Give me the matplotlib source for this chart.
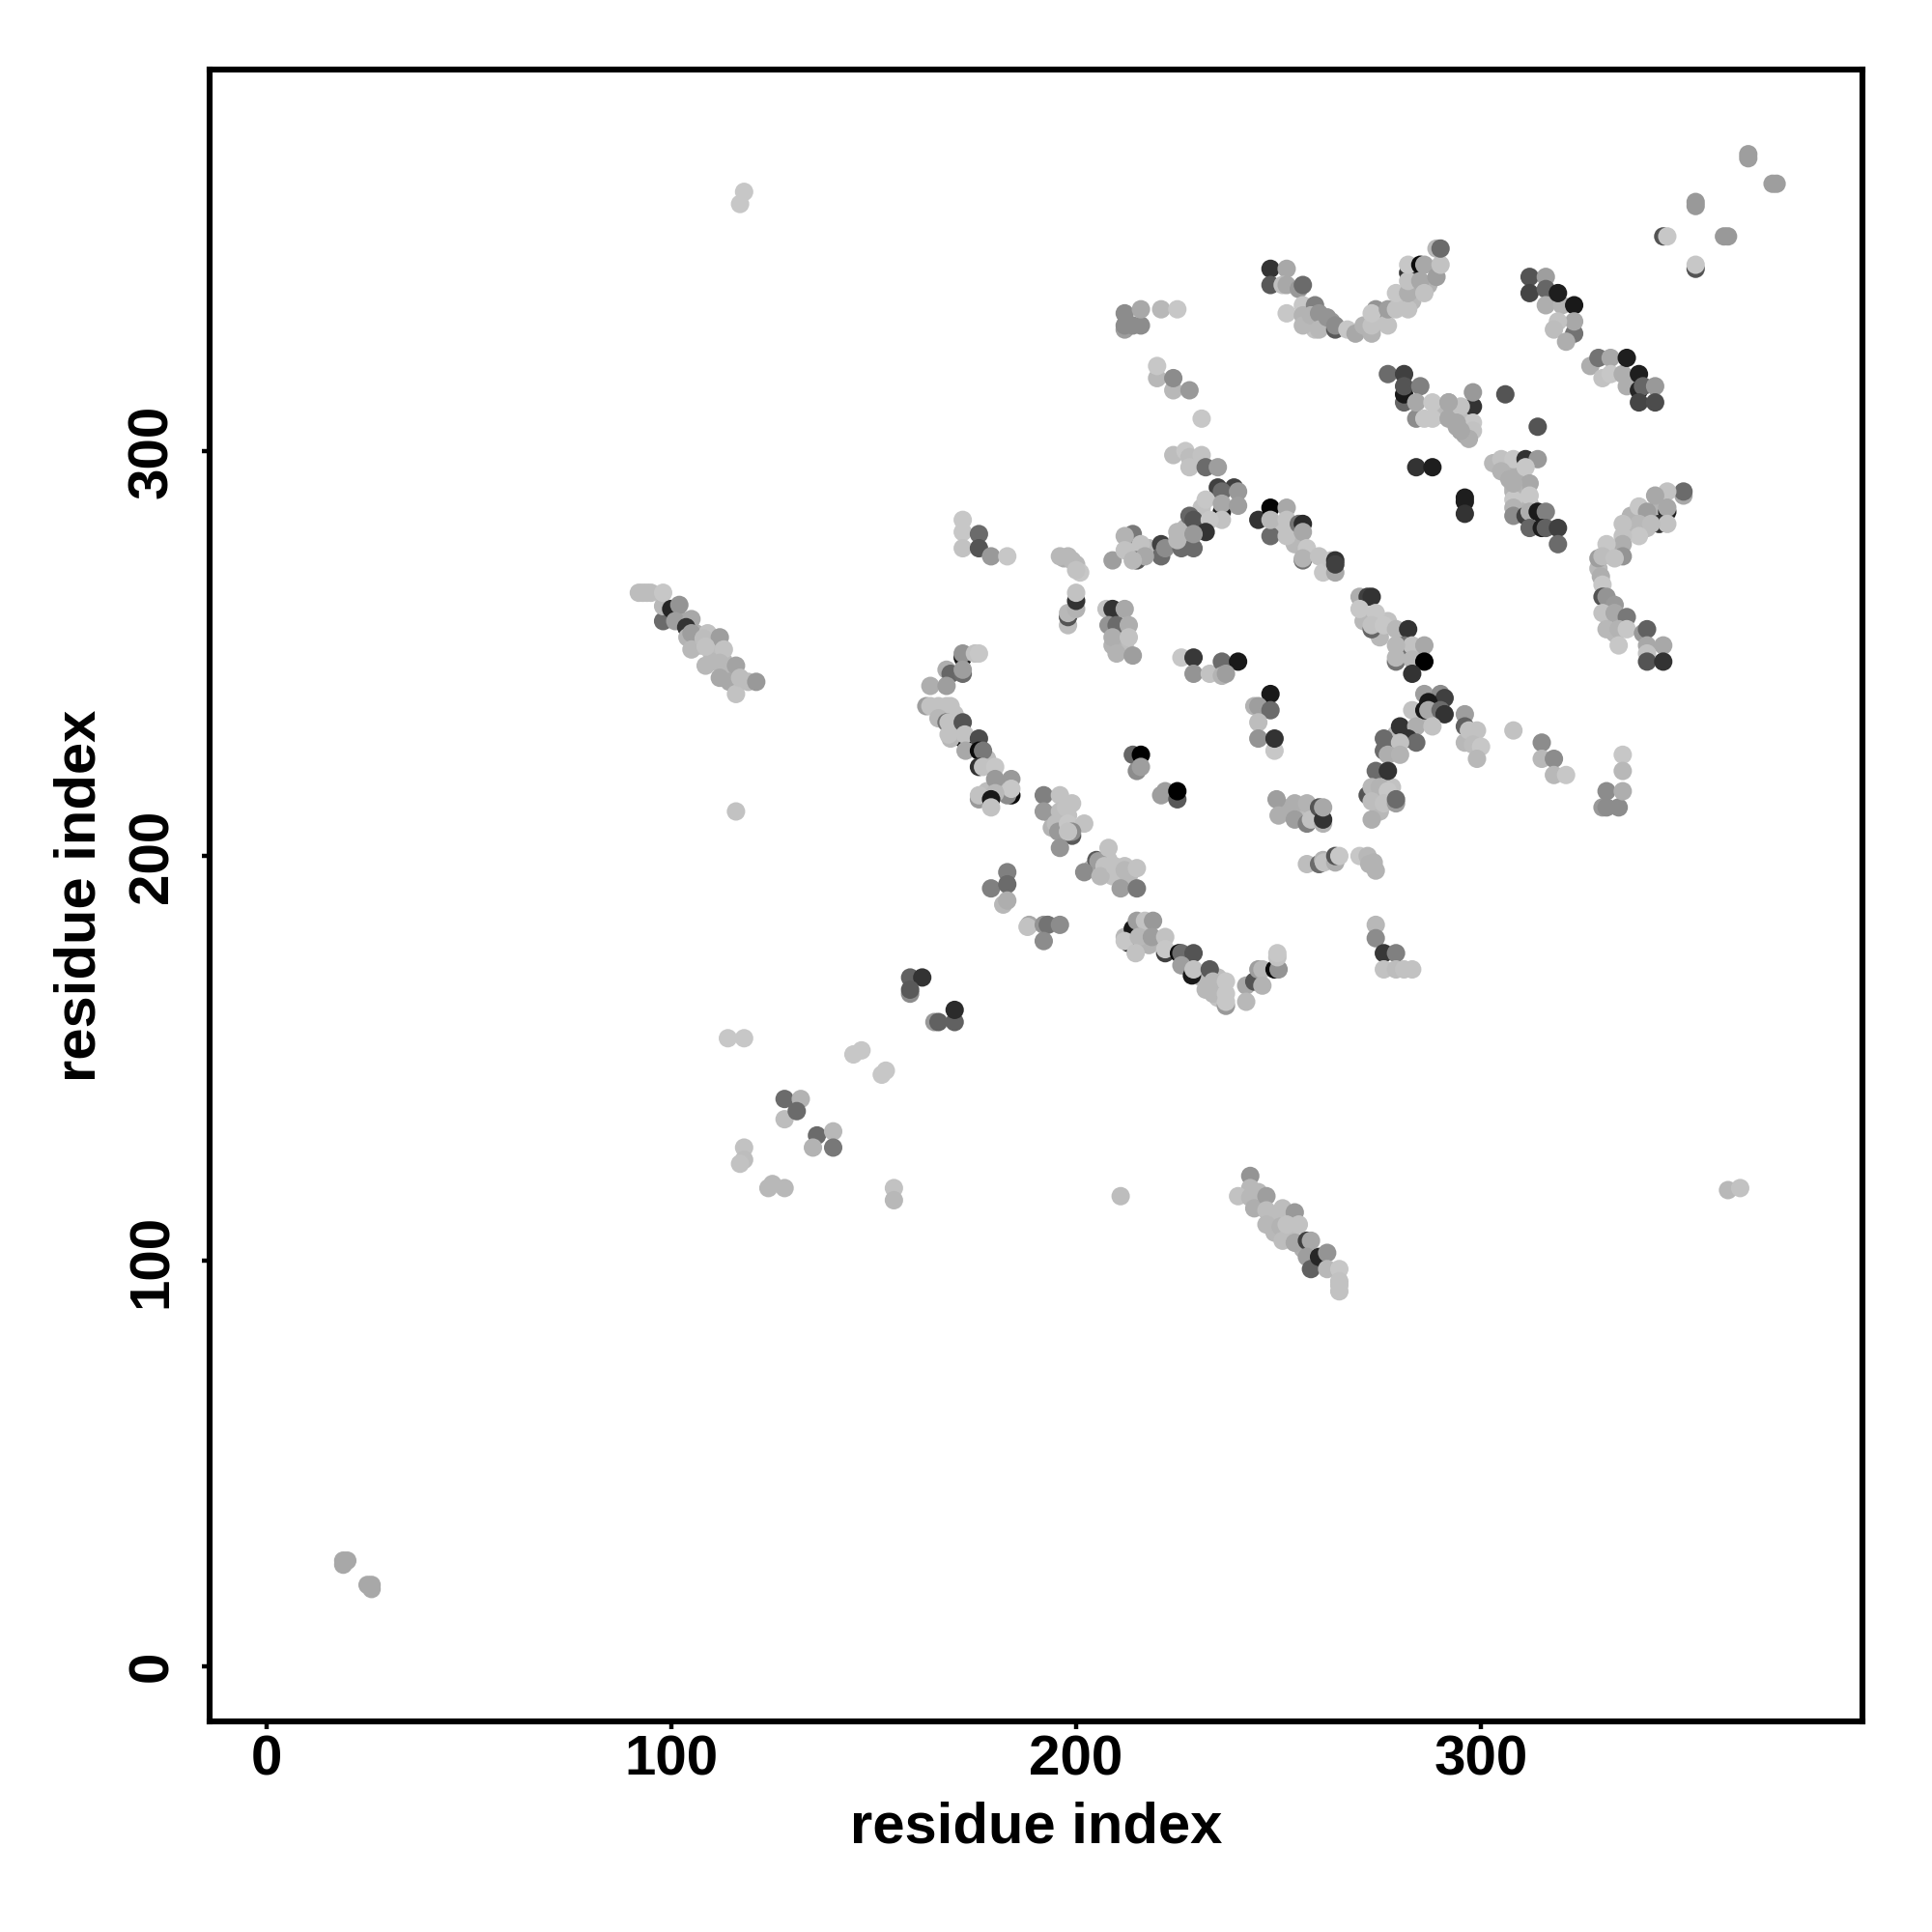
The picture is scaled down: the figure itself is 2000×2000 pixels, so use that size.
"""
Contact map of a protein: residue index against residue index, points shaded by score.
"""

import matplotlib

matplotlib.use("Agg")
import matplotlib.pyplot as plt
import numpy as np

#####################################
# Chart data (residue i, residue j, grey level)
#####################################

# points packed inside the dense patches, these sit under everything else
packed_x = [250, 251, 253, 254, 257, 258, 261, 259, 263, 275, 280, 283, 284, 287, 283,
            290, 291, 293, 294, 296, 297, 296, 306, 307, 309, 310, 308, 310, 309, 312,
            106, 107, 110, 110, 113, 115, 104, 103, 245, 249, 249, 252, 245, 253, 256, 259,
            194, 198, 197, 194, 199, 208, 209, 213, 204, 276, 278, 274, 275, 278, 279, 285,
            251, 252, 255, 256, 258, 271, 275, 280, 282, 285, 277, 332, 335, 333, 329, 332,
            337, 338, 341, 337, 344, 211, 212, 209, 170, 167, 171, 174, 178, 180, 178, 182,
            216, 218, 212, 231, 235, 235, 232, 235, 218, 214, 213, 231, 227, 226, 310, 310]
packed_y = [281, 280, 279, 277, 335, 332, 332, 330, 332, 332, 337, 337, 340, 341, 342,
            309, 310, 309, 306, 306, 306, 309, 296, 295, 294, 293, 290, 290, 289, 287,
            255, 252, 250, 248, 248, 245, 256, 258, 114, 111, 107, 106, 117, 107, 103, 100,
            210, 210, 207, 207, 213, 199, 195, 195, 197, 218, 217, 214, 211, 227, 230, 235,
            212, 211, 211, 210, 211, 258, 254, 250, 250, 250, 258, 258, 258, 255, 271, 275,
            281, 284, 281, 284, 286, 255, 252, 252, 235, 235, 231, 228, 224, 217, 216, 217,
            182, 178, 180, 170, 167, 170, 167, 165, 276, 276, 277, 286, 281, 279, 287, 285]
packed_g = [.72, .76, .72, .72, .7, .74, .62, .76, .6, .76, .76, .72, .7, .7, .72,
            .72, .72, .66, .66, .68, .74, .74, .7, .7, .68, .68, .7, .7, .74, .72,
            .68, .72, .74, .72, .72, .72, .66, .66, .72, .74, .72, .72, .72, .74, .68, .66,
            .72, .76, .76, .7, .76, .76, .76, .72, .7, .72, .76, .72, .72, .7, .72, .7,
            .68, .68, .72, .72, .74, .72, .72, .72, .72, .74, .76, .7, .68, .72, .72, .72,
            .72, .72, .74, .7, .7, .72, .74, .7, .76, .72, .72, .7, .74, .72, .74, .74,
            .72, .7, .72, .72, .72, .74, .72, .76, .72, .74, .76, .76, .72, .7, .74, .7]

a_x = [212, 212, 212, 214, 216, 216, 221, 225]
a_y = [330, 331, 334, 331, 331, 335, 335, 335]
a_g = [.62, .55, .55, .55, .55, .66, .72, .78]

b_x = [220, 220, 224, 224, 228, 231]
b_y = [318, 321, 315, 318, 315, 308]
b_g = [.72, .78, .72, .55, .6, .78]

c_x = [248, 252, 248, 251, 252, 255, 256, 252, 256, 256, 256, 259, 258, 260, 260, 262, 264, 264]
c_y = [345, 345, 341, 341, 341, 340, 341, 334, 336, 333.5, 331, 336, 333.5, 334, 330, 333, 330, 331]
c_g = [.2, .66, .35, .75, .66, .6, .42, .78, .78, .7, .72, .5, .7, .58, .72, .58, .35, .55]

d_x = [267, 269, 273, 271, 273, 274, 273, 277, 277, 279, 282, 279, 282, 282, 282, 282, 285, 286, 285, 286, 289, 290, 289, 290]
d_y = [330, 329, 329, 331, 331, 335, 334, 331, 335, 335, 335, 339, 339, 344, 342, 346, 346, 346, 342, 339, 343, 346, 350, 350]
d_g = [.78, .66, .7, .7, .76, .58, .78, .76, .62, .76, .76, .78, .68, .2, .76, .78, .05, .66, .66, .76, .62, .76, .72, .42]

e_x = [277, 281, 281, 281, 281, 285, 284, 284, 288, 292, 288, 286, 292, 295, 296, 298, 298, 295, 298, 298, 297, 292, 294, 295]
e_y = [319, 319, 312, 314, 316, 316, 308, 312, 312, 312, 308, 308, 308, 305, 304, 311, 314.5, 311, 307, 305, 303, 312, 307, 305]
e_g = [.42, .25, .4, .1, .33, .5, .55, .66, .78, .66, .78, .78, .66, .66, .66, .2, .6, .76, .78, .76, .68, .66, .66, .66]

f_x = [284, 288, 296, 296, 296, 306, 314]
f_y = [296, 296, 288.5, 287.5, 284.5, 314, 306]
f_g = [.2, .12, .12, .12, .2, .33, .33]

g_x = [353, 353, 360, 361, 366, 366, 372, 373, 345, 346, 353, 353]
g_y = [361.5, 360.5, 353, 353, 373.3, 372.3, 366, 366, 353, 353, 345, 346]
g_g = [.6, .6, .6, .6, .62, .62, .62, .62, .33, .78, .33, .78]

h_x = [312, 316, 312, 316, 316, 320, 319, 323, 323, 323, 319, 318, 321]
h_y = [343, 343, 339, 340, 336, 336, 339, 336, 329, 332, 332, 330, 327]
h_g = [.33, .62, .27, .4, .68, .7, .12, .1, .45, .66, .76, .74, .68]

i_x = [327, 329, 332, 330, 332, 335, 336, 336, 339, 339, 340, 343, 339, 343]
i_y = [321, 323, 323, 318, 319, 319, 323, 316, 319, 315, 316, 316, 312, 312]
i_g = [.68, .45, .66, .76, .78, .68, .12, .68, .12, .15, .4, .6, .27, .3]

j_x = [303, 305, 308, 311, 314, 311, 305, 307, 312, 308]
j_y = [297, 298, 298, 298, 298, 296, 295, 293, 292, 291]
j_g = [.72, .76, .78, .2, .6, .78, .7, .68, .66, .7]

k_x = [308, 312, 308, 308, 308, 311, 312, 314, 316, 312, 315, 316, 319, 319]
k_y = [288, 289, 286, 284, 292, 284, 285, 285, 285, 281, 281, 281, 281, 277]
k_g = [.78, .78, .7, .55, .68, .25, .68, .1, .5, .4, .12, .38, .25, .42]

l_x = [350, 350, 346, 343, 346, 346, 344, 346, 339, 341, 339, 342, 339, 335, 335, 335, 335]
l_y = [289, 290, 290, 289, 285, 286, 282, 282, 286.3, 285, 282, 282, 279, 282, 279, 277, 274]
l_g = [.66, .42, .76, .66, .12, .66, .2, .76, .78, .62, .72, .74, .78, .76, .76, .68, .58]

m_x = [331, 329, 330, 333, 329.6, 330, 330, 331, 333, 330, 333, 336, 331, 334, 336, 334]
m_y = [277, 273.5, 274, 273.5, 269, 267, 264, 264, 262, 260, 260, 259, 256, 256, 256, 252]
m_g = [.78, .62, .74, .76, .68, .78, .33, .58, .6, .76, .66, .47, .72, .7, .78, .78]

n_x = [340, 341, 341, 345, 341, 341, 345]
n_y = [255, 256, 252, 252, 250, 248, 248]
n_g = [.6, .38, .66, .66, .76, .33, .2]

o_x = [296, 296, 296, 297, 299, 298, 300, 299, 308]
o_y = [235, 232, 228, 231, 231, 227.5, 227, 224, 231]
o_g = [.62, .38, .72, .76, .76, .74, .78, .72, .76]

p_x = [315, 315, 318, 318, 321, 335, 335, 330, 331, 331, 334, 335]
p_y = [228, 224, 224, 220, 220, 225, 221, 212, 216, 212, 212, 216]
p_g = [.55, .72, .55, .72, .78, .78, .72, .6, .55, .55, .55, .68]

q_x = [235, 239, 236, 240, 232, 236, 236, 240, 236, 228, 229, 233, 232, 229]
q_y = [291, 291, 290, 290, 288, 285, 287, 286.5, 283, 284, 283, 283, 280, 279.5]
q_g = [.25, .25, .42, .6, .78, .12, .66, .62, .76, .4, .33, .78, .2, .6]

r_x = [225, 221, 221, 222, 226, 229, 225, 209, 214, 212, 216, 212, 215, 217, 214]
r_y = [280, 277, 274, 276, 276, 276, 278, 273, 279.5, 279, 277, 275.5, 273, 274, 273]
r_g = [.72, .25, .42, .55, .42, .42, .72, .62, .47, .7, .76, .76, .35, .66, .72]

s_x = [245, 248, 252, 248, 248, 252, 252, 255, 256, 256, 257, 256, 256, 260, 261, 264, 263, 264, 264]
s_y = [283, 286, 286, 279, 283, 283, 279, 282, 282, 280, 276, 273, 273.5, 274, 270, 270, 273, 273, 272]
s_g = [.2, .02, .66, .42, .72, .76, .76, .45, .17, .66, .78, .45, .7, .76, .78, .66, .76, .2, .25]

t_x = [270, 272, 273, 270, 274, 273, 273, 276, 279, 282, 281, 283, 286, 279, 279, 279, 283, 286, 283]
t_y = [264, 264, 264, 261, 260, 256, 257, 257, 256, 256, 252, 252, 252, 248, 252, 249, 248.5, 248, 245]
t_g = [.68, .25, .2, .78, .78, .4, .76, .78, .72, .2, .45, .76, .66, .45, .72, .72, .72, 0, .2]

u_x = [207.5, 209, 212, 208, 210, 213, 209, 213, 210, 214]
u_y = [261, 261, 261, 257, 257, 257, 254, 254, 250, 249.5]
u_g = [.76, .2, .66, .58, .42, .68, .68, .76, .7, .62]

v_x = [197, 198, 200, 201, 198, 198, 198, 200, 200, 200]
v_y = [273.5, 274, 272, 270, 257, 259, 260, 261, 263, 265]
v_g = [.68, .72, .72, .78, .74, .33, .72, .7, .2, .76]

w_x = [226, 229, 229, 233, 236, 240, 236, 237]
w_y = [249, 249, 245, 245, 248, 248, 244.5, 245]
w_g = [.78, .22, .58, .76, .42, .1, .7, .62]

y_x = [248, 244, 245, 248, 245, 245, 249, 249]
y_y = [240, 237, 237, 236, 233, 229, 226, 229]
y_g = [.1, .7, .62, .42, .74, .58, .78, .2]

z_x = [286, 290, 291, 287, 283, 286, 287, 290, 291, 280, 284, 288, 282, 284, 276, 280, 276, 277, 280]
z_y = [240, 240, 239, 238, 236, 236, 236, 236, 235, 232, 232, 232, 229, 228, 229, 228, 226, 225, 225]
z_g = [.62, .55, .25, .1, .76, .1, .66, .42, .2, .2, .68, .76, .2, .42, .42, .76, .42, .68, .7]

aa_x = [274, 277, 272, 273, 275, 277, 273, 276, 279, 279, 273]
aa_y = [221, 221, 215, 217, 217, 216, 213.5, 213, 213, 214, 209]
aa_g = [.42, .2, .33, .72, .7, .78, .74, .76, .62, .42, .68]

ab_x = [249.5, 250, 254, 254, 257, 257, 258, 260, 261, 261, 261]
ab_y = [214, 210, 213, 209, 213, 208, 209, 212, 208, 209, 212]
ab_g = [.62, .68, .68, .62, .7, .5, .76, .33, .7, .2, .66]

ac_x = [214, 216, 215, 216, 221, 222, 225, 225]
ac_y = [225, 225, 221, 222, 215, 216, 214, 216]
ac_g = [.4, 0, .55, .62, .62, .62, .35, 0]

ad_x = [172, 172, 175, 176, 168, 169, 172, 172, 164, 168]
ad_y = [249, 250, 250, 250, 246, 245, 245, 246, 242, 242]
ad_g = [.1, .58, .76, .78, .68, .4, .42, .62, .68, .62]

ae_x = [163, 164, 166, 168, 169, 166, 168, 168.5, 172, 172, 169, 168.5, 172.5]
ae_y = [237, 237, 237, 237, 237, 234, 233, 233, 233, 229, 229, 230, 230]
ae_g = [.62, .76, .76, .76, .76, .72, .45, .76, .33, 0, .72, .76, .76]

af_x = [176, 172.7, 176, 177, 176, 177, 180, 180, 184, 184, 183, 184]
af_y = [229, 226, 226, 226, 222, 222, 222, 219, 215, 219, 215, 216.6]
af_g = [.3, .66, .05, .47, .2, .76, .78, .6, .05, .6, .55, .78]

ag_x = [180, 176, 176, 179, 179]
ag_y = [215.5, 214, 215, 214, 212]
ag_g = [.72, .6, .76, .1, .76]

ah_x = [192, 196, 192, 196, 197.5, 195, 195.6, 198, 202, 199, 199, 198, 196]
ah_y = [215, 215, 211, 211, 212, 208, 206, 208, 208, 205, 206, 206, 202]
ah_g = [.5, .76, .6, .74, .76, .74, .6, .78, .76, .35, .55, .76, .58]

ai_x = [205, 205.5, 202, 208, 207, 206, 209.5, 212, 212, 215, 211, 215]
ai_y = [199, 198.7, 196, 202, 197.5, 195, 197.5, 197.5, 196.5, 197, 192, 192]
ai_g = [.35, .62, .55, .76, .76, .72, .76, .76, .72, .76, .62, .47]

aj_x = [183, 179, 183, 182, 183, 188.4, 188, 192, 193, 196, 192]
aj_y = [196, 192, 193, 188, 189, 183, 182.5, 183, 183, 183, 179]
aj_g = [.5, .5, .42, .72, .68, .66, .76, .58, .45, .55, .55]

ak_x = [214, 215, 217, 219, 213, 212, 215.5, 218.7, 222, 214.7, 222, 222]
ak_y = [182, 184, 184, 184, 178.5, 179, 180, 180, 180, 176, 176, 177]
ak_g = [.1, .62, .76, .6, .1, .78, .72, .62, .76, .76, .25, .78]

al_x = [225.4, 226, 229, 226, 228.6, 229, 233, 233.8, 233.8, 237, 237, 237, 237]
al_y = [176, 176, 176, 173, 170.5, 172, 172, 169, 166, 163, 164, 166, 169]
al_g = [.05, .42, .33, .62, .1, .76, .35, .72, .72, .6, .78, .78, .78]

am_x = [242, 242, 244, 245, 246, 246, 249, 250, 249.7, 249.7]
am_y = [168, 164, 169, 172, 172, 168, 172, 172, 175, 176]
am_g = [.66, .72, .33, .62, .72, .7, .05, .58, .76, .78]

an_x = [159, 162, 159, 159, 165, 166, 170, 170]
an_y = [170, 170, 166, 167, 159, 159, 159, 162]
an_g = [.38, .2, .55, .35, .6, .38, .38, .17]

ao_x = [92, 93, 94, 95, 98, 98, 98, 100, 102, 101, 105, 103.7, 104, 105, 105]
ao_y = [265, 265, 265, 265, 258, 261.7, 265, 261, 262, 258, 258.5, 256.5, 254, 255, 251]
ao_g = [.74, .74, .74, .74, .42, .72, .78, .15, .58, .62, .66, .2, .7, .62, .72]

ap_x = [109, 108, 112, 108.5, 113, 108.5, 112, 112, 116, 114.4, 116, 119, 117, 121, 116]
ap_y = [255, 253.7, 254, 251.7, 251, 247, 247.7, 244, 247, 243, 240, 243, 244, 243, 211]
ap_g = [.76, .74, .62, .76, .76, .72, .72, .66, .64, .66, .76, .74, .74, .6, .76]

aq_x = [257, 260, 261, 261.2, 264, 264, 265, 270, 272, 272.4, 273.5, 274]
aq_y = [198, 198, 199, 198.4, 198.4, 200, 200, 200, 200, 198, 198.4, 196.4]
aq_g = [.74, .42, .7, .76, .68, .33, .78, .78, .72, .7, .7, .7]

ar_x = [274, 274, 276, 279, 276, 279, 281, 283, 211]
ar_y = [183, 179.7, 176, 176, 172, 172, 172, 172, 116]
ar_g = [.72, .55, .22, .5, .76, .74, .76, .76, .74]

as_x = [243, 243, 240, 243, 244, 247, 247, 247, 251, 254, 250.5, 251, 252, 255]
as_y = [121, 118, 116, 115.7, 113, 116, 112.5, 109, 113, 112, 108.5, 105, 109, 109]
as_g = [.58, .72, .76, .72, .68, .62, .74, .72, .74, .6, .7, .74, .76, .76]

at_x = [254, 257, 258, 257, 258, 260, 262, 262, 265, 265, 265, 265]
at_y = [104.5, 105, 105, 101, 98, 101, 102, 98, 98, 95, 92.5, 94]
at_g = [.66, .25, .66, .62, .38, .15, .58, .72, .78, .76, .76, .76]

au_x = [118, 117, 19, 20, 19, 26, 26, 25, 114, 118]
au_y = [364, 361, 26, 26, 25, 20, 19, 20, 155, 155]
au_g = [.78, .78, .66, .66, .66, .66, .66, .66, .78, .78]

av_x = [145, 147, 152, 153, 128, 132, 128, 131, 136, 140, 140, 135]
av_y = [151, 152, 146, 147, 140, 140, 135, 137, 131, 132, 128, 128]
av_g = [.78, .78, .78, .78, .42, .7, .74, .42, .42, .72, .47, .7]

aw_x = [118, 118, 117, 124, 125, 128, 155, 155, 361, 364]
aw_y = [128, 125, 124, 118, 119, 118, 118, 115, 117.5, 118]
aw_g = [.76, .74, .76, .72, .72, .72, .76, .72, .72, .76]

ax_x = [224, 227, 228, 231, 228, 232, 235]
ax_y = [299, 300, 298.5, 299, 296, 296, 296]
ax_g = [.74, .78, .74, .76, .76, .42, .62]

ay_x = [172, 172, 172, 176, 176, 179, 183]
ay_y = [283, 280, 276, 279.5, 276, 274, 274]
ay_g = [.78, .78, .76, .42, .33, .6, .78]

az_x = [196, 199, 200]
az_y = [274, 273, 270.6]
az_g = [.72, .72, .76]

tick_values = [0, 100, 200, 300]
axis_label = "residue index"

#####################################
# Plot
#####################################

clusters = [
    (packed_x, packed_y, packed_g),
    (a_x, a_y, a_g), (b_x, b_y, b_g), (c_x, c_y, c_g), (d_x, d_y, d_g), (e_x, e_y, e_g),
    (f_x, f_y, f_g), (g_x, g_y, g_g), (h_x, h_y, h_g), (i_x, i_y, i_g), (j_x, j_y, j_g),
    (k_x, k_y, k_g), (l_x, l_y, l_g), (m_x, m_y, m_g), (n_x, n_y, n_g), (o_x, o_y, o_g),
    (p_x, p_y, p_g), (r_x, r_y, r_g), (q_x, q_y, q_g), (s_x, s_y, s_g), (t_x, t_y, t_g),
    (u_x, u_y, u_g), (v_x, v_y, v_g), (w_x, w_y, w_g), (y_x, y_y, y_g), (z_x, z_y, z_g),
    (aa_x, aa_y, aa_g), (ab_x, ab_y, ab_g), (ac_x, ac_y, ac_g), (ad_x, ad_y, ad_g),
    (ae_x, ae_y, ae_g), (af_x, af_y, af_g), (ag_x, ag_y, ag_g), (ah_x, ah_y, ah_g),
    (ai_x, ai_y, ai_g), (aj_x, aj_y, aj_g), (ak_x, ak_y, ak_g), (al_x, al_y, al_g),
    (am_x, am_y, am_g), (an_x, an_y, an_g), (ao_x, ao_y, ao_g), (ap_x, ap_y, ap_g),
    (aq_x, aq_y, aq_g), (ar_x, ar_y, ar_g), (as_x, as_y, as_g), (at_x, at_y, at_g),
    (au_x, au_y, au_g), (av_x, av_y, av_g), (aw_x, aw_y, aw_g), (ax_x, ax_y, ax_g),
    (ay_x, ay_y, ay_g), (az_x, az_y, az_g),
]

plt.rcParams["font.family"] = ["Liberation Sans", "DejaVu Sans"]
plt.rcParams["font.weight"] = "bold"

fig = plt.figure(figsize=(10, 10), dpi=200)
ax = fig.add_axes([217 / 2000, 218 / 2000, 1711 / 2000, 1710 / 2000])

for xs, ys, gs in clusters:
    # each point on its own colour, drawn in listed order so the overlaps stack up
    ax.scatter(xs, ys, c=np.array(gs), cmap="gray", vmin=0, vmax=1, s=47, linewidths=0, clip_on=True)

ax.set_xlim(-14, 394.2)
ax.set_ylim(-13.7, 394.2)
ax.set_xticks(tick_values)
ax.set_yticks(tick_values)
ax.tick_params(axis="both", length=3, width=1.6, labelsize=21)
ax.tick_params(axis="x", pad=1.8)
ax.tick_params(axis="y", pad=8.5)
plt.setp(ax.get_yticklabels(), rotation=90, va="center")

for spine in ax.spines.values():
    spine.set_linewidth(2.2)

ax.set_xlabel(axis_label, fontsize=21.5, fontweight="bold", labelpad=5.5)
ax.set_ylabel(axis_label, fontsize=21.5, fontweight="bold", labelpad=7.5)

fig.savefig("out.png", dpi=200, facecolor="white")
plt.close(fig)
